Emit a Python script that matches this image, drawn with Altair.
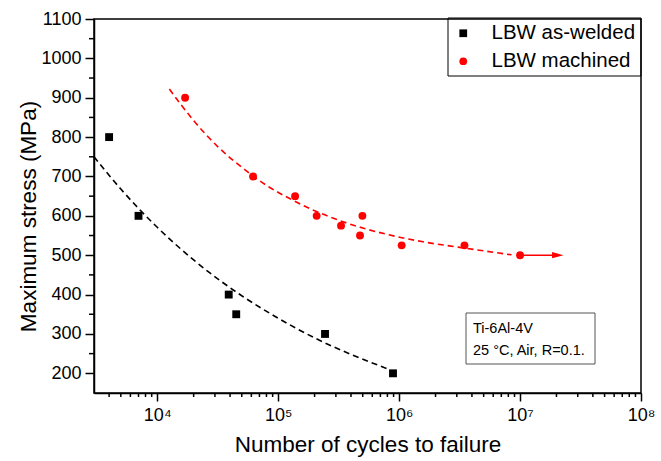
import altair as alt
import pandas as pd

FONT = "Liberation Sans"

# ---------------- data ----------------
series_names = ["LBW as-welded", "LBW machined"]
series_colors = ["#000000", "#ff0000"]
series_shapes = ["square", "circle"]

aw_cycles = [4000, 7000, 39000, 45000, 244000, 890000]
aw_stress = [800, 600, 400, 350, 300, 200]

m_cycles = [17000, 62000, 138000, 208000, 331000, 475000, 497000, 1050000, 3470000, 10000000]
m_stress = [900, 700, 650, 600, 575, 550, 600, 525, 525, 500]

# dashed fit curves
aw_fit_cycles = [3000, 5000, 10000, 20000, 50000, 100000, 200000, 400000, 811000]
aw_fit_stress = [750, 668, 571, 488, 397, 340, 290, 248, 211]

m_fit_cycles = [12600, 20000, 31600, 50100, 79400, 126000, 200000, 316000, 501000,
                794000, 1580000, 3160000, 8500000]
m_fit_stress = [922, 842, 776, 723, 678, 643, 613, 589, 569, 553, 534, 520, 501]

runout_start = [10000000]
runout_end = [20500000]
runout_stress = [500]

x_major = [1e4, 1e5, 1e6, 1e7, 1e8]
x_minor = [m * 10 ** e for e in range(3, 8) for m in range(2, 10) if 3000 < m * 10 ** e < 1e8]
y_major = list(range(200, 1101, 100))
y_minor = list(range(250, 1051, 100))

annotation_lines = ["Ti-6Al-4V", "25 \u00b0C, Air, R=0.1."]

# ---------------- tables ----------------
points = pd.DataFrame({
    "N": aw_cycles + m_cycles,
    "S": aw_stress + m_stress,
    "series": [series_names[0]] * len(aw_cycles) + [series_names[1]] * len(m_cycles),
})
aw_fit = pd.DataFrame({"N": aw_fit_cycles, "S": aw_fit_stress})
m_fit = pd.DataFrame({"N": m_fit_cycles, "S": m_fit_stress})
runout = pd.DataFrame({"N": runout_start, "N2": runout_end, "S": runout_stress})
xminor_df = pd.DataFrame({"v": x_minor})
yminor_df = pd.DataFrame({"v": y_minor})
one = pd.DataFrame({"a": [0]})

xscale = alt.Scale(type="log", domain=[3000, 1e8], nice=False)
yscale = alt.Scale(domain=[150, 1100], nice=False, zero=False)

sup = "['\u2070','\u00b9','\u00b2','\u00b3','\u2074','\u2075','\u2076','\u2077','\u2078']"
x_axis_major = alt.Axis(
    orient="bottom", values=x_major, labelExpr="'10' + " + sup + "[round(log(datum.value)/LN10)]",
    tickSize=8, labelPadding=5, labelFontSize=18, labelFlush=False, labelOverlap=False,
    title="Number of cycles to failure", titleFontSize=22.5, titleY=58, titleBaseline="alphabetic",
    grid=False,
)
y_axis_major = alt.Axis(
    orient="left", values=y_major, format="d", tickSize=9, labelPadding=4, labelFontSize=18,
    labelFlush=False, labelOverlap=False,
    title="Maximum stress (MPa)", titleFontSize=22.5, titleX=-59, titleY=197,
    titleBaseline="alphabetic", grid=False,
)

legend = alt.Legend(
    title=None, orient="none", legendX=359, legendY=4, direction="vertical",
    labelFontSize=20.5, labelFont=FONT, labelColor="black", symbolSize=60,
    symbolStrokeWidth=0, labelOffset=18, rowPadding=7, padding=0,
)

pts = alt.Chart(points).mark_point(filled=True, opacity=1, size=62, strokeWidth=0).encode(
    x=alt.X("N:Q", scale=xscale, axis=x_axis_major),
    y=alt.Y("S:Q", scale=yscale, axis=y_axis_major),
    color=alt.Color("series:N", scale=alt.Scale(domain=series_names, range=series_colors), legend=legend),
    shape=alt.Shape("series:N", scale=alt.Scale(domain=series_names, range=series_shapes), legend=legend),
)

aw_line = alt.Chart(aw_fit).mark_line(
    color="black", strokeDash=[6, 4], strokeWidth=1.6, interpolate="monotone"
).encode(
    x=alt.X("N:Q", scale=xscale, axis=None),
    y=alt.Y("S:Q", scale=yscale, axis=None),
)
m_line = alt.Chart(m_fit).mark_line(
    color="#ff0000", strokeDash=[6, 4], strokeWidth=1.6, interpolate="monotone"
).encode(
    x=alt.X("N:Q", scale=xscale, axis=None),
    y=alt.Y("S:Q", scale=yscale, axis=None),
)
arrow = alt.Chart(runout).mark_rule(color="#ff0000", strokeWidth=1.6).encode(
    x=alt.X("N:Q", scale=xscale, axis=None), x2="N2:Q",
    y=alt.Y("S:Q", scale=yscale, axis=None),
)
head = alt.Chart(runout).mark_point(
    shape="M-1,-0.55 L1,0 L-1,0.55 Z", filled=True, color="#ff0000", size=130, opacity=1, strokeWidth=0
).encode(
    x=alt.X("N2:Q", scale=xscale, axis=None),
    y=alt.Y("S:Q", scale=yscale, axis=None),
)

# minor ticks of both axes
xminor = alt.Chart(xminor_df).mark_rule(color="black", strokeWidth=1.5).encode(
    x=alt.X("v:Q", scale=xscale, axis=None), y=alt.value(374), y2=alt.value(378)
)
yminor = alt.Chart(yminor_df).mark_rule(color="black", strokeWidth=1.5).encode(
    y=alt.Y("v:Q", scale=yscale, axis=None), x=alt.value(0), x2=alt.value(-5)
)

legend_box = alt.Chart(one).mark_rect(fill=None, stroke="black", strokeWidth=1).encode(
    x=alt.value(354), x2=alt.value(547), y=alt.value(-1), y2=alt.value(57)
)
box = alt.Chart(one).mark_rect(fill="white", stroke="#555555", strokeWidth=1).encode(
    x=alt.value(372), x2=alt.value(501), y=alt.value(294), y2=alt.value(345)
)
t1 = alt.Chart(one).mark_text(align="left", baseline="alphabetic", fontSize=14.5, font=FONT, color="black").encode(
    x=alt.value(379), y=alt.value(314), text=alt.value(annotation_lines[0])
)
t2 = alt.Chart(one).mark_text(align="left", baseline="alphabetic", fontSize=14.5, font=FONT, color="black").encode(
    x=alt.value(379), y=alt.value(336), text=alt.value(annotation_lines[1])
)

chart = alt.layer(
    pts, aw_line, m_line, arrow, head, xminor, yminor, legend_box, box, t1, t2
).resolve_axis(
    x="independent", y="independent"
).properties(
    width=547, height=374,
    autosize=alt.AutoSizeParams(type="none"),
    padding={"left": 94, "top": 19, "right": 20, "bottom": 68},
    background="white",
).configure_view(
    stroke="black", strokeWidth=1.5
).configure_axis(
    domainColor="black", domainWidth=1.5, tickColor="black", tickWidth=1.5,
    labelColor="black", titleColor="black", labelFont=FONT, titleFont=FONT,
    titleFontWeight="normal",
)

chart.save("out.html", embed_options={"renderer": "svg", "actions": False})
